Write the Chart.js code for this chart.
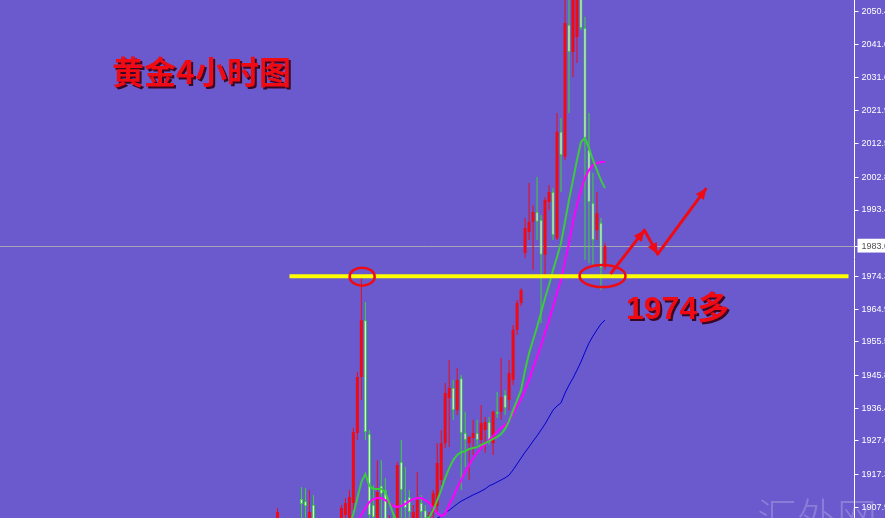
<!DOCTYPE html>
<html>
<head>
<meta charset="utf-8">
<script src="https://cdn.jsdelivr.net/npm/chart.js@4.4.1/dist/chart.umd.min.js"></script>
<style>
  html, body { margin: 0; padding: 0; background: #6A5ACD; overflow: hidden; }
  #goldChart { display: block; }
</style>
</head>
<body>
<canvas id="goldChart" width="885" height="518"></canvas>
<script>
// chart slots: candles sit in slots 69..151, the rest is MT4 "chart shift" space
const slotCount = 214;
const firstSlot = 69;

const openPrices = [
  1902.7, 1898.4, 1899.9, 1897.0, 1899.0, 1899.9, 1910.2, 1909.6, 1901.3, 1908.5,
  1901.3, 1895.5, 1898.4, 1895.0, 1897.8, 1900.7, 1899.9, 1905.6, 1902.7, 1909.1,
  1929.2, 1945.3, 1961.7, 1928.9, 1908.5, 1904.2, 1914.0, 1912.8, 1901.3, 1904.2,
  1902.7, 1920.9, 1909.9, 1910.8, 1902.7, 1902.7, 1909.1, 1907.0, 1902.7, 1906.5,
  1908.2, 1915.7, 1926.3, 1939.3, 1942.2, 1935.8, 1945.0, 1929.2, 1926.3, 1927.8,
  1929.2, 1927.2, 1930.1, 1932.4, 1926.3, 1935.3, 1935.3, 1940.2, 1938.7, 1944.5,
  1958.9, 1966.6, 1981.0, 1987.1, 1990.0, 1992.8, 1990.5, 1980.5, 1995.7, 1998.6,
  1985.3, 2015.9, 2008.7, 2046.7, 2038.9, 2043.2, 2056.7, 2045.8, 2010.7, 1995.4,
  1987.6, 1989.7, 1977.0
];
const highPrices = [
  1907.6, 1901.3, 1901.9, 1899.9, 1902.7, 1903.6, 1913.7, 1913.4, 1912.8, 1911.4,
  1904.2, 1899.9, 1901.3, 1899.0, 1901.9, 1903.6, 1908.5, 1910.5, 1912.8, 1930.7,
  1946.8, 1974.1, 1966.9, 1930.1, 1914.2, 1921.4, 1921.4, 1916.3, 1905.6, 1906.5,
  1920.9, 1927.2, 1919.4, 1912.8, 1908.5, 1918.0, 1911.4, 1908.5, 1906.5, 1912.8,
  1926.3, 1930.1, 1943.6, 1950.2, 1944.5, 1947.9, 1945.9, 1935.3, 1928.4, 1933.0,
  1933.0, 1937.3, 1933.8, 1933.8, 1935.8, 1941.0, 1950.8, 1941.6, 1950.2, 1960.3,
  1967.5, 1970.9, 1991.1, 2001.2, 1994.8, 2002.9, 1992.0, 1997.1, 2000.6, 1999.7,
  2021.3, 2019.9, 2056.7, 2058.2, 2061.0, 2062.5, 2062.5, 2049.0, 2021.3, 2004.1,
  1998.6, 1991.1, 1983.9
];
const lowPrices = [
  1899.9, 1895.5, 1896.1, 1894.1, 1896.1, 1898.4, 1899.9, 1902.7, 1898.4, 1897.0,
  1892.7, 1892.7, 1894.1, 1892.7, 1896.1, 1897.0, 1898.4, 1902.7, 1901.3, 1907.0,
  1927.2, 1938.7, 1927.2, 1901.3, 1902.7, 1901.3, 1902.7, 1901.3, 1898.4, 1899.9,
  1901.3, 1904.2, 1902.7, 1902.7, 1901.3, 1901.3, 1902.7, 1901.3, 1901.3, 1904.2,
  1906.5, 1914.2, 1924.9, 1925.2, 1933.0, 1934.4, 1912.8, 1919.4, 1915.7, 1922.9,
  1925.8, 1924.3, 1923.5, 1925.8, 1922.9, 1933.5, 1933.0, 1934.4, 1935.8, 1943.0,
  1957.4, 1965.8, 1979.6, 1984.8, 1976.1, 1984.8, 1960.9, 1974.7, 1993.4, 1984.8,
  1984.8, 1998.6, 2007.8, 2021.3, 2031.7, 2035.7, 2045.2, 1979.0, 1978.1, 1977.0,
  1984.8, 1970.4, 1976.1
];
const closePrices = [
  1906.5, 1899.9, 1897.0, 1899.0, 1898.4, 1902.7, 1908.8, 1908.2, 1906.5, 1901.3,
  1897.0, 1898.4, 1895.5, 1897.8, 1900.7, 1898.4, 1907.6, 1909.1, 1910.8, 1929.5,
  1945.3, 1961.7, 1929.5, 1905.6, 1905.0, 1912.2, 1911.7, 1904.2, 1904.2, 1901.9,
  1920.0, 1912.8, 1907.6, 1906.5, 1906.5, 1909.9, 1906.5, 1904.7, 1905.6, 1911.9,
  1920.6, 1926.3, 1940.7, 1942.2, 1935.8, 1944.5, 1929.2, 1927.2, 1928.1, 1929.2,
  1927.2, 1932.1, 1932.4, 1926.6, 1935.3, 1934.7, 1939.6, 1936.4, 1946.5, 1958.9,
  1966.6, 1970.4, 1988.2, 1990.0, 1992.8, 1990.0, 1980.5, 1996.3, 1998.6, 1986.2,
  2015.9, 2009.2, 2047.2, 2038.9, 2055.3, 2056.2, 2045.8, 2014.1, 1995.7, 1984.8,
  1992.5, 1976.7, 1983.0
];

// moving averages (null where the line is not on screen)
const maFast = [
  null, null, null, null, null, null, null, null, null, null,
  null, null, null, null, null, null, null, 1899.9, 1902.7, 1905.9,
  1910.5, 1915.1, 1917.4, 1914.0, 1913.1, 1913.1, 1913.1, 1912.2, 1909.1, 1905.9,
  1903.6, 1902.7, 1902.2, 1901.9, 1902.2, 1902.7, 1903.6, 1904.2, 1905.0, 1907.0,
  1909.9, 1912.8, 1916.3, 1919.1, 1921.4, 1922.9, 1923.7, 1924.0, 1924.6, 1924.9,
  1925.2, 1925.8, 1926.3, 1926.9, 1927.5, 1928.1, 1928.9, 1930.4, 1932.7, 1935.8,
  1938.7, 1941.6, 1947.3, 1952.2, 1956.0, 1959.7, 1963.8, 1968.1, 1971.8, 1976.1,
  1979.9, 1983.9, 1990.0, 1996.3, 2002.0, 2007.8, 2013.0, 2014.1, 2011.3, 2007.8,
  2004.9, 2002.0, 1999.7
];
const maMid = [
  null, null, null, null, null, null, null, null, null, null,
  null, null, null, null, null, null, null, null, null, 1901.3,
  1903.6, 1905.6, 1907.6, 1909.4, 1910.2, 1910.5, 1910.5, 1909.9, 1909.1, 1908.2,
  1907.9, 1908.2, 1908.8, 1909.6, 1910.2, 1910.5, 1910.5, 1909.9, 1909.1, 1907.6,
  1906.2, 1905.3, 1905.9, 1908.5, 1910.8, 1913.4, 1915.7, 1918.0, 1920.0, 1922.0,
  1923.5, 1924.9, 1926.0, 1927.2, 1928.4, 1929.5, 1930.7, 1931.5, 1932.7, 1934.7,
  1937.0, 1939.0, 1941.6, 1944.5, 1947.9, 1951.1, 1954.5, 1958.0, 1961.7, 1965.5,
  1969.5, 1973.3, 1978.4, 1983.9, 1990.0, 1994.8, 1999.2, 2002.6, 2004.9, 2006.4,
  2006.9, 2007.2, 2007.2
];
const maSlow = [
  null, null, null, null, null, null, null, null, null, null,
  null, null, null, null, null, null, null, null, null, null,
  null, null, null, null, null, null, null, null, null, null,
  null, null, null, null, null, null, null, 1901.9, 1903.3, 1904.2,
  1904.7, 1905.3, 1906.2, 1907.0, 1907.9, 1908.8, 1909.6, 1910.2, 1910.8, 1911.4,
  1911.9, 1912.5, 1913.1, 1914.0, 1914.5, 1915.1, 1915.7, 1916.3, 1917.1, 1918.6,
  1920.3, 1922.0, 1923.7, 1925.2, 1926.9, 1928.4, 1930.1, 1931.8, 1933.8, 1935.8,
  1937.0, 1937.9, 1940.7, 1943.0, 1945.0, 1947.3, 1949.7, 1952.5, 1955.1, 1957.1,
  1958.9, 1960.6, 1961.7
];

const priceTicks = [2050.4, 2041.0, 2031.6, 2021.9, 2012.5, 2002.8, 1993.4, 1983.0,
                    1974.3, 1964.9, 1955.5, 1945.8, 1936.4, 1927.0, 1917.3, 1907.9];
const lastPrice = 1983.0;
const supportLevel = 1974.3;
const supportSpan = [72, 212];

// hand-drawn notes, in [slot, price]
const arrowPath = [[152.4, 1975.0], [160.9, 1987.6], [164.2, 1980.7], [176.4, 1999.7]];
const circleMarks = [[90.2, 1974.2], [150.4, 1974.4]];

const titleText = '黄金4小时图';
const noteText = '1974多';
const watermarkText = '汇外网';

// helpers
function pad(arr) {
    const out = new Array(firstSlot).fill(null).concat(arr);
    while (out.length < slotCount) out.push(null);
    return out;
}
const labels = Array.from({ length: slotCount }, (_, i) => String(i));
const isUp = closePrices.map((c, i) => c >= openPrices[i]);

const upBodies = pad(openPrices.map((o, i) => isUp[i] ? [o, closePrices[i]] : null));
const downBodies = pad(openPrices.map((o, i) => !isUp[i] ? [closePrices[i], o] : null));
const upWicks = pad(lowPrices.map((l, i) => isUp[i] ? [l, highPrices[i]] : null));
const downWicks = pad(lowPrices.map((l, i) => !isUp[i] ? [l, highPrices[i]] : null));

const supportData = new Array(slotCount).fill(null);
supportData[supportSpan[0]] = supportLevel;
supportData[supportSpan[1]] = supportLevel;

const RED = '#F00A14';
const GREEN = '#36D836';

function arrowHead(ctx, x0, y0, x1, y1) {
    const a = Math.atan2(y1 - y0, x1 - x0);
    const len = 11, half = 5;
    ctx.beginPath();
    ctx.moveTo(x1, y1);
    ctx.lineTo(x1 - len * Math.cos(a) + half * Math.sin(a), y1 - len * Math.sin(a) - half * Math.cos(a));
    ctx.lineTo(x1 - len * Math.cos(a) - half * Math.sin(a), y1 - len * Math.sin(a) + half * Math.cos(a));
    ctx.closePath();
    ctx.fill();
}

const overlayPlugin = {
    id: 'overlay',
    beforeDraw(chart) {
        const ctx = chart.ctx;
        ctx.save();
        ctx.fillStyle = '#6A5ACD';
        ctx.fillRect(0, 0, chart.width, chart.height);
        ctx.restore();
    },
    beforeDatasetsDraw(chart) {
        // bid line
        const ctx = chart.ctx, area = chart.chartArea;
        const y = Math.round(chart.scales.y.getPixelForValue(lastPrice)) + 0.5;
        ctx.save();
        ctx.strokeStyle = 'rgba(190,190,170,0.75)';
        ctx.lineWidth = 1;
        ctx.beginPath();
        ctx.moveTo(0, y);
        ctx.lineTo(area.right, y);
        ctx.stroke();
        ctx.restore();
    },
    afterDatasetsDraw(chart) {
        const ctx = chart.ctx;
        const xs = chart.scales.x, ys = chart.scales.y;
        ctx.save();

        // red circles on the support line
        ctx.strokeStyle = RED;
        ctx.lineWidth = 2.5;
        const radii = [[12.5, 9], [23, 11]];
        circleMarks.forEach((m, i) => {
            ctx.beginPath();
            ctx.ellipse(xs.getPixelForValue(m[0]), ys.getPixelForValue(m[1]), radii[i][0], radii[i][1], 0, 0, Math.PI * 2);
            ctx.stroke();
        });

        // zigzag arrow
        const pts = arrowPath.map(p => [xs.getPixelForValue(p[0]), ys.getPixelForValue(p[1])]);
        ctx.lineWidth = 3;
        ctx.lineJoin = 'round';
        ctx.beginPath();
        pts.forEach((p, i) => i ? ctx.lineTo(p[0], p[1]) : ctx.moveTo(p[0], p[1]));
        ctx.stroke();
        ctx.fillStyle = RED;
        for (let i = 1; i < pts.length; i++) {
            arrowHead(ctx, pts[i - 1][0], pts[i - 1][1], pts[i][0], pts[i][1]);
        }

        // texts
        ctx.textBaseline = 'middle';
        ctx.textAlign = 'left';
        ctx.shadowColor = 'rgba(50,0,20,0.9)';
        ctx.shadowOffsetX = 2;
        ctx.shadowOffsetY = 2;
        ctx.shadowBlur = 0;
        ctx.fillStyle = RED;
        ctx.font = 'bold 32px "Noto Sans CJK SC", "Liberation Sans", sans-serif';
        ctx.fillText(titleText, 112, 72);
        ctx.font = 'bold 32px "Liberation Sans", "Noto Sans CJK SC", sans-serif';
        ctx.fillText(noteText, 626, 310);

        // watermark
        ctx.shadowColor = 'transparent';
        ctx.fillStyle = 'rgba(215,210,240,0.3)';
        ctx.textBaseline = 'alphabetic';
        ctx.font = '300 40px "Noto Sans CJK SC", sans-serif';
        ctx.fillText(watermarkText, 757, 532);
        ctx.restore();
    }
};

const barCommon = { grouped: false, borderSkipped: false, inflateAmount: 0, order: 2 };

new Chart(document.getElementById('goldChart'), {
    type: 'bar',
    data: {
        labels: labels,
        datasets: [
            { type: 'line', label: 'support', data: supportData, borderColor: '#FFFF00', borderWidth: 4,
              pointRadius: 0, spanGaps: true, order: 0 },
            { type: 'line', label: 'MA fast', data: pad(maFast), borderColor: '#3CCB3C', borderWidth: 2,
              pointRadius: 0, order: 1 },
            { type: 'line', label: 'MA mid', data: pad(maMid), borderColor: '#FF00FF', borderWidth: 2,
              pointRadius: 0, order: 1 },
            { type: 'line', label: 'MA slow', data: pad(maSlow), borderColor: '#0000CD', borderWidth: 1,
              pointRadius: 0, order: 1 },
            Object.assign({ label: 'up body', data: upBodies, backgroundColor: RED, borderWidth: 0, barThickness: 3 }, barCommon),
            Object.assign({ label: 'down body', data: downBodies, backgroundColor: '#F4FFF0', borderColor: GREEN,
                            borderWidth: 1, barThickness: 3 }, barCommon),
            Object.assign({ label: 'up wick', data: upWicks, backgroundColor: RED, borderWidth: 0, barThickness: 1 }, barCommon, { order: 3 }),
            Object.assign({ label: 'down wick', data: downWicks, backgroundColor: GREEN, borderWidth: 0, barThickness: 1 }, barCommon, { order: 3 })
        ]
    },
    options: {
        responsive: false,
        devicePixelRatio: 1,
        animation: false,
        // slot width of exactly 4px so candles land on whole pixels
        layout: { padding: { left: -1.5, right: 0, top: 0, bottom: 0 } },
        plugins: { legend: { display: false }, tooltip: { enabled: false } },
        scales: {
            x: { type: 'category', offset: true, display: false, grid: { display: false } },
            y: {
                type: 'linear',
                position: 'right',
                min: 1904.75,
                max: 2053.85,
                bounds: 'data',
                afterBuildTicks: scale => { scale.ticks = priceTicks.map(v => ({ value: v })); },
                afterFit: scale => { scale.width = 30.5; scale.paddingTop = 0; scale.paddingBottom = 0; },
                grid: { drawOnChartArea: false, drawTicks: true, tickLength: 4, color: '#FFFFFF' },
                border: { display: true, color: '#FFFFFF', width: 1 },
                ticks: {
                    autoSkip: false,
                    padding: 3,
                    font: { family: 'Liberation Sans', size: 9 },
                    color: c => (c.tick && c.tick.value === lastPrice) ? '#505050' : '#FFFFFF',
                    showLabelBackdrop: c => !!(c.tick && c.tick.value === lastPrice),
                    backdropColor: '#FFFFFF',
                    backdropPadding: { left: 4, right: 10, top: 2, bottom: 1 },
                    callback: v => Number(v).toFixed(1)
                }
            }
        }
    },
    plugins: [overlayPlugin]
});
</script>
</body>
</html>
